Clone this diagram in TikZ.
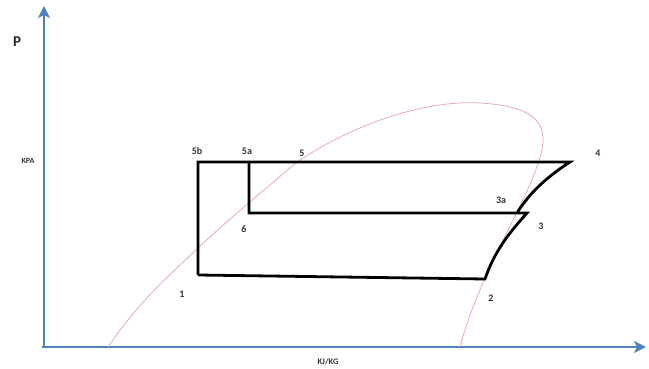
\documentclass[tikz,border=0pt]{standalone}
\usepackage{fontspec}
\setmainfont{Carlito}
\usetikzlibrary{arrows.meta}
\definecolor{axblue}{RGB}{79,129,189}
\definecolor{domepink}{RGB}{230,170,180}
\tikzset{
  axis/.style={axblue,line width=2.6pt,-{Stealth[length=12pt,width=12pt,inset=3pt]}},
  cyc/.style={black,line width=2.8pt,line join=miter},
  dome/.style={domepink,line width=0.8pt},
  lbl/.style={font=\bfseries\fontsize{10}{11}\selectfont,text=black!80,inner sep=0pt}
}
\begin{document}
\begin{tikzpicture}[x=1pt,y=-1pt]
\useasboundingbox (0,0) rectangle (649,369);
% axes
\coordinate (O) at (44,347);
\coordinate (ytop) at (44,6);
\coordinate (xend) at (646,347);
\draw[axis] (O) -- (ytop);
\draw[axis] (42,347) -- (xend);
% dome
\draw[dome] (108,347) .. controls (140,300) and (170,275) .. (198,248)
  .. controls (230,218) and (270,185) .. (297,162)
  .. controls (360,120) and (430,100) .. (480,103)
  .. controls (530,106) and (548,120) .. (542,150)
  .. controls (530,200) and (480,270) .. (460,347);
% cycle points
\coordinate (p5b) at (198,162);
\coordinate (p4) at (570,162);
\coordinate (p3a) at (517,213);
\coordinate (p3) at (527,213);
\coordinate (p6) at (249,213);
\coordinate (p5a) at (249,162);
\coordinate (p1) at (198,275);
\coordinate (p2) at (485,279);
\draw[cyc] (p1) -- (p5b) -- (p4) .. controls (545,178) and (528,195) .. (p3a);
\draw[cyc] (p5a) -- (p6) -- (p3) .. controls (510,232) and (495,250) .. (p2) -- (p1);
% labels
\node[font=\bfseries\fontsize{15}{16}\selectfont,text=black!85] (lP) at (17,42) {P};
\node[lbl,font=\bfseries\fontsize{8}{9}\selectfont] (lKPA) at (28,161) {KPA};
\node[lbl,font=\bfseries\fontsize{8.5}{9}\selectfont] (lKJ) at (328,362) {KJ/KG};
\node[lbl] (l5b) at (197,151) {5b};
\node[lbl] (l5a) at (247,151) {5a};
\node[lbl] (l5) at (302,153) {5};
\node[lbl] (l4) at (598,153) {4};
\node[lbl] (l3a) at (501,200) {3a};
\node[lbl] (l3) at (541,226) {3};
\node[lbl] (l6) at (244,229) {6};
\node[lbl] (l2) at (491,298) {2};
\node[lbl] (l1) at (182,294) {1};
\end{tikzpicture}
\end{document}
